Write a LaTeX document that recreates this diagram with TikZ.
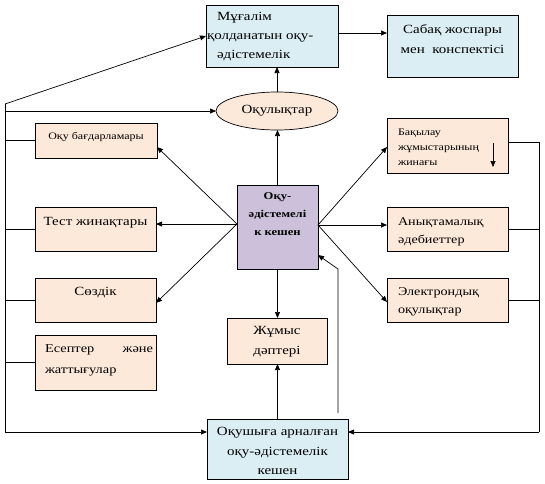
\documentclass[tikz,border=0pt]{standalone}
\usepackage{fontspec}
\setmainfont{Liberation Serif}[FakeStretch=1.2]
\usetikzlibrary{arrows.meta,positioning,shapes.geometric}
\definecolor{boxblue}{HTML}{DAEEF3}
\definecolor{boxpeach}{HTML}{FDE9D9}
\definecolor{boxlilac}{HTML}{CCC0DA}

\begin{document}
\begin{tikzpicture}[x=1pt,y=-1pt,
  every node/.style={inner sep=0pt, outer sep=0pt},
  box/.style={draw, line width=0.7pt, rectangle},
  bluebox/.style={box, fill=boxblue},
  peachbox/.style={box, fill=boxpeach},
  big/.style={font=\fontsize{12.5}{19}\selectfont},
  mid/.style={font=\fontsize{11.8}{18}\selectfont},
  small/.style={font=\fontsize{10}{15}\selectfont},
  arr/.style={-{Triangle[length=6pt,width=5pt]}, line width=0.7pt},
  wire/.style={line width=0.7pt}]
  \useasboundingbox (0,0) rectangle (545,483);

  \node[bluebox, minimum width=132pt, minimum height=62pt] (teach) at (272,36) {};
  \node[big, align=left, below right=7.7pt and 1pt of teach.north west] (teachtxt)
    {\hspace*{10pt}Мұғалім\\қолданатын\ оқу-\\\hspace*{10pt}әдістемелік};
  \node[bluebox, minimum width=131pt, minimum height=62pt] (sabak) at (452.5,46) {};
  \node[font=\fontsize{12.5}{20}\selectfont, align=center, below=9.7pt of sabak.north] (sabaktxt)
    {Сабақ жоспары\\мен\ \ конспектісі};
  \node[draw, line width=0.7pt, ellipse, fill=boxpeach, minimum width=122pt, minimum height=38pt, big] (ell) at (277,111) {Оқулықтар};

  \node[peachbox, minimum width=122pt, minimum height=35pt] (prog) at (96,140.5) {};
  \node[small, below=9pt of prog.north] (progtxt) {Оқу бағдарламары};
  \node[peachbox, minimum width=121pt, minimum height=44pt] (test) at (95.5,229) {};
  \node[big, below=10.7pt of test.north] (testtxt) {Тест жинақтары};
  \node[peachbox, minimum width=121pt, minimum height=44pt] (sozdik) at (95.5,300) {};
  \node[big, below=9.7pt of sozdik.north] (sozdiktxt) {Сөздік};
  \node[peachbox, minimum width=121pt, minimum height=55pt] (esep) at (95.5,362.5) {};
  \node[font=\fontsize{12}{21}\selectfont, text width=108pt, align=left, below right=9.5pt and 10pt of esep.north west] (eseptxt)
    {Есептер\hfill және\\жаттығулар};

  \node[box, fill=boxlilac, minimum width=81pt, minimum height=84pt] (cen) at (277.5,227) {};
  \node[font=\fontsize{10.5}{18}\selectfont\bfseries, align=center, below=8pt of cen.north] (centxt)
    {Оқу-\\әдістемелі\\к кешен};
  \node[peachbox, minimum width=100pt, minimum height=46pt] (jumys) at (277,341) {};
  \node[font=\fontsize{12.5}{20}\selectfont, align=center, below=8.7pt of jumys.north] (jumystxt)
    {Жұмыс\\дәптері};
  \node[bluebox, minimum width=141pt, minimum height=60pt] (kesh) at (277.5,449) {};
  \node[font=\fontsize{12.5}{19.5}\selectfont, align=center, below=8.7pt of kesh.north] (keshtxt)
    {Оқушыға арналған\\оқу-әдістемелік\\кешен};

  \node[peachbox, minimum width=121pt, minimum height=55pt] (bak) at (447.5,145.5) {};
  \node[small, align=left, below right=11pt and 11pt of bak.north west] (baktxt)
    {Бақылау\\жұмыстарының\\жинағы};
  \node[peachbox, minimum width=121pt, minimum height=44pt] (anyk) at (447.5,229) {};
  \node[mid, align=left, below right=10.5pt and 11pt of anyk.north west] (anyktxt)
    {Анықтамалық\\әдебиеттер};
  \node[peachbox, minimum width=121pt, minimum height=44pt] (elek) at (447.5,300) {};
  \node[mid, align=left, below right=9.5pt and 11pt of elek.north west] (elektxt)
    {Электрондық\\оқулықтар};

  \coordinate (t1) at ([yshift=3pt]teach.east);
  \draw[arr] (t1) -- (t1 -| sabak.west);
  \draw[arr] (ell.north) -- (ell.north |- teach.south);
  \draw[arr] (cen.north) -- (cen.north |- ell.south);
  \draw[arr] (cen.south) -- (cen.south |- jumys.north);
  \draw[arr] (kesh.north) -- (kesh.north |- jumys.south);

  \coordinate (cl) at ([yshift=3pt]cen.west);
  \draw[arr] (cl) -- ([yshift=-6.5pt]prog.east);
  \draw[arr] (cl) -- (cl -| test.east);
  \draw[arr] (cl) -- ([yshift=-3pt]sozdik.east);
  \coordinate (cr) at ([yshift=2pt]cen.east);
  \draw[arr] (cr) -- ([yshift=-1.5pt]bak.west);
  \draw[arr] (cr) -- (cr -| anyk.west);
  \draw[arr] (cr) -- ([yshift=-2pt]elek.west);

  \coordinate (lt) at (5,104);
  \coordinate (lm) at (5,111);
  \coordinate (lb) at (5,432);
  \draw[arr] (lt) -- (teach.west);
  \draw[arr] (lm) -- (ell.west);
  \draw[wire] (lt) -- (lb);
  \draw[arr] (lb) -- (lb -| kesh.west);
  \foreach \b in {prog,test,sozdik,esep}
    \draw[wire] (\b.west) -- (\b.west -| lb);

  \coordinate (rt) at (539,142);
  \coordinate (rb) at (539,432);
  \draw[wire] (rt -| bak.east) -- (rt) -- (rb);
  \draw[arr] (rb) -- (rb -| kesh.east);
  \foreach \b in {anyk,elek}
    \draw[wire] (\b.east) -- (\b.east -| rb);

  \coordinate (fb) at (338,413);
  \draw[arr] (fb) -- (fb |- cen.south) -- ([yshift=-28pt]cen.east);

  \coordinate (bka) at ([xshift=-15pt,yshift=2.5pt]bak.east);
  \coordinate (bkb) at ([xshift=-15pt,yshift=-21.5pt]bak.east);
  \draw[arr] (bka) -- (bkb);
\end{tikzpicture}
\end{document}
